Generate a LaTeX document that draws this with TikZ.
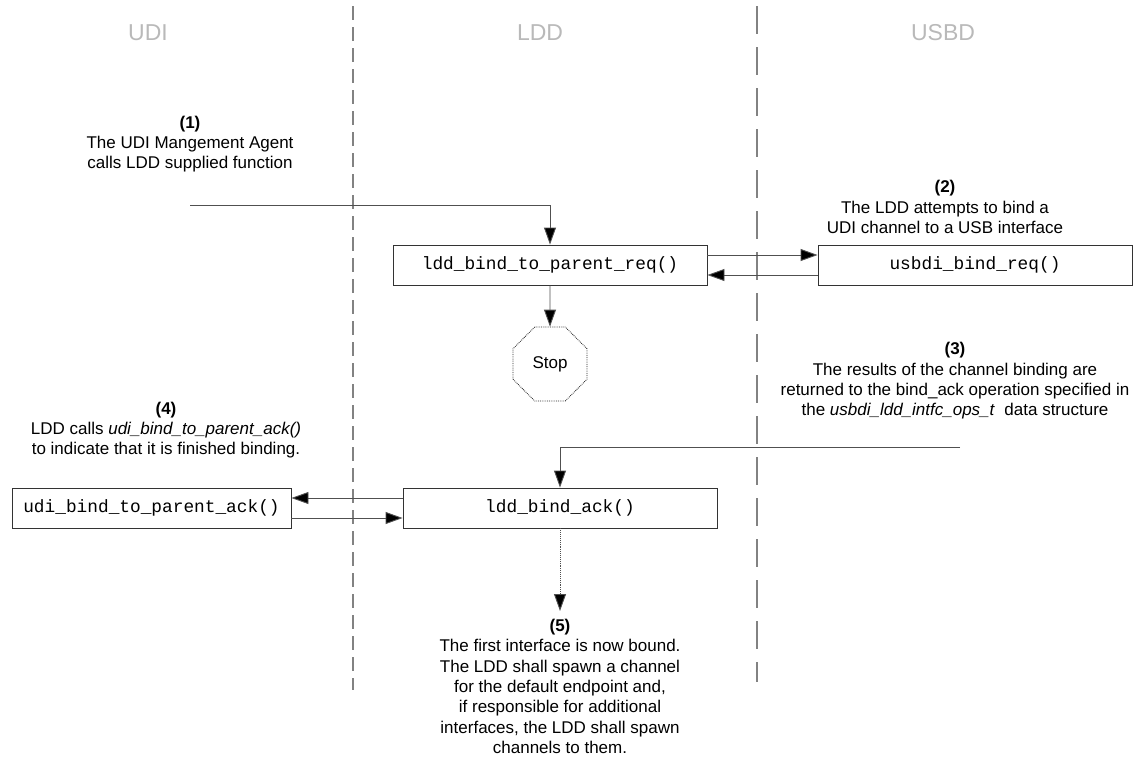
\documentclass[tikz,border=0pt]{standalone}
\usepackage{fontspec}
\setmainfont{Liberation Sans}
\setmonofont{Liberation Mono}
\usetikzlibrary{arrows.meta,shapes.geometric,positioning}
\definecolor{lanegray}{RGB}{130,130,130}
\definecolor{headgray}{RGB}{185,185,185}
\definecolor{wiregray}{RGB}{80,80,80}
\tikzset{
	fnbox/.style={draw=black!80,line width=0.9pt,minimum width=314pt,minimum height=40pt,
		inner sep=0pt,font=\fontsize{17.8}{20}\ttfamily},
	note/.style={align=center,inner sep=0pt,font=\fontsize{17}{20.3}\selectfont},
	lane/.style={draw=lanegray,line width=1.3pt},
	head/.style={text=headgray,font=\fontsize{23}{26}\selectfont},
	wire/.style={draw=wiregray,line width=0.9pt,-{Triangle[length=17pt,width=12pt,fill=black]}},
}
\begin{document}
\begin{tikzpicture}[x=1pt,y=-1pt]
		\useasboundingbox (0,0) rectangle (1140,766);
		%
		\draw[lane,dash pattern=on 14pt off 7pt] (353,6) -- (353,690);
		\draw[lane,dash pattern=on 28pt off 13pt] (757,6) -- (757,682);
		%
		\node[head] (hudi) at (148,33) {UDI};
		\node[head] (hldd) at (540,33) {LDD};
		\node[head] (husb) at (943,33) {USBD};
		%
		\node[fnbox] (req) at (550,265) {ldd\_bind\_to\_parent\_req()};
		\node[fnbox] (usb) at (975,265) {usbdi\_bind\_req()};
		\node[fnbox] (ack) at (560,508) {ldd\_bind\_ack()};
		\node[fnbox,minimum width=279pt] (udi) at (151.5,508) {udi\_bind\_to\_parent\_ack()};
		\node[draw=black!85,densely dotted,line width=0.8pt,regular polygon,regular polygon sides=8,
			minimum size=80pt,inner sep=0pt,font=\fontsize{17}{20}\selectfont] (stop) at (550,364) {Stop};
		%
		\node[note] (n1) at (190,144) {\textbf{(1)}\\The UDI Mangement Agent\\calls LDD supplied function};
		\node[note] (n2) at (945,207) {\textbf{(2)}\\The LDD attempts to bind a\\UDI channel to a USB interface};
		\node[note] (n3) at (955,381) {\textbf{(3)}\\The results of the channel binding are\\returned to the bind\_ack operation specified in\\the \textit{usbdi\_ldd\_intfc\_ops\_t}\ \ data structure};
		\node[note] (n4) at (166,430) {\textbf{(4)}\\LDD calls \textit{udi\_bind\_to\_parent\_ack()}\\to indicate that it is finished binding.};
		\node[note,anchor=north] (n5) at (560,619) {\textbf{(5)}\\The first interface is now bound.\\The LDD shall spawn a channel\\for the default endpoint and,\\if responsible for additional\\interfaces, the LDD shall spawn\\channels to them.};
		%
		\coordinate (c1) at (190,205);
		\coordinate (c3) at (960,447);
		\draw[wire] (c1) -| (req.north);
		\draw[wire] (c3) -| (ack.north);
		\draw[wire] ([yshift=10pt]req.east) -- ([yshift=10pt]usb.west);
		\draw[wire] ([yshift=-10pt]usb.west) -- ([yshift=-10pt]req.east);
		\draw[wire] (req.south) -- (stop.north);
		\draw[wire] ([yshift=10pt]ack.west) -- ([yshift=10pt]udi.east);
		\draw[wire] ([yshift=-10pt]udi.east) -- ([yshift=-10pt]ack.west);
		\draw[wire,densely dotted] (ack.south) -- ([yshift=8pt]n5.north);
\end{tikzpicture}
\end{document}
